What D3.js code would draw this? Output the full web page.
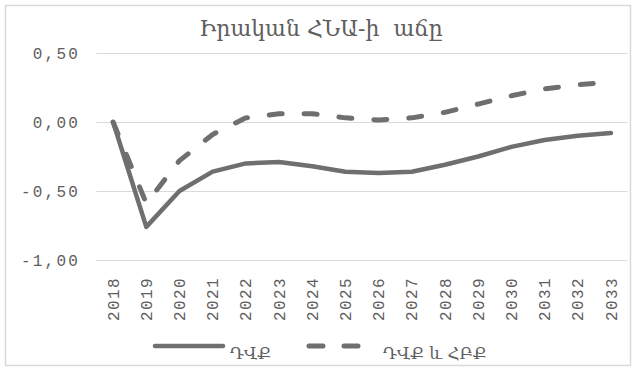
<!DOCTYPE html>
<html>
<head>
<meta charset="utf-8">
<script src="https://cdn.jsdelivr.net/npm/d3@7"></script>
<style>
  html, body { margin: 0; padding: 0; background: #fff; }
  svg { display: block; }
</style>
</head>
<body>
<svg id="chart" width="636" height="370"></svg>
<script>
// Real GDP growth, deviation (percentage points)
const years = ["2018","2019","2020","2021","2022","2023","2024","2025",
               "2026","2027","2028","2029","2030","2031","2032","2033"];
const seriesNames = ["ԴՎՔ", "ԴՎՔ և ՀԲՔ"];
const dvq      = [0.00,-0.76,-0.50,-0.36,-0.30,-0.29,-0.32,-0.36,-0.37,-0.36,-0.31,-0.25,-0.18,-0.13,-0.10,-0.08];
const dvqHbq   = [0.00,-0.59,-0.28,-0.09, 0.03, 0.06, 0.06, 0.03, 0.015,0.03, 0.07, 0.13, 0.19, 0.24, 0.27, 0.29];
const yTicks   = [0.5, 0, -0.5, -1];
const titleText = "Իրական ՀՆԱ-ի  աճը";

const svg = d3.select("#chart");
const grey = "#6f6f6f", textGrey = "#5e5e5e", gridGrey = "#d9d9d9";

// outer frame
svg.append("rect").attr("x", 5.5).attr("y", 5.5).attr("width", 625).attr("height", 360)
  .attr("fill", "#fff").attr("stroke", gridGrey).attr("stroke-width", 1.5);

const x = d3.scaleBand().domain(years).range([96.5, 627.5]);
const y = d3.scaleLinear().domain([-1, 0.5]).range([260, 53]);
const cx = d => x(d) + x.bandwidth() / 2;

// title
svg.append("text").attr("x", 321).attr("y", 36)
  .attr("text-anchor", "middle")
  .style("white-space", "pre")
  .attr("font-family", "DejaVu Serif, serif").attr("font-size", 22)
  .attr("fill", textGrey).text(titleText);

// gridlines
svg.append("g").selectAll("line").data(yTicks).join("line")
  .attr("x1", 96.5).attr("x2", 627.5)
  .attr("y1", d => Math.round(y(d)) + 0.5).attr("y2", d => Math.round(y(d)) + 0.5)
  .attr("stroke", gridGrey).attr("stroke-width", 1);

// y axis labels
const fmt = d => d3.format(".2f")(d).replace(".", ",").replace("−", "-");
const yAxis = d3.axisLeft(y).tickValues(yTicks).tickFormat(fmt).tickSize(0).tickPadding(0);
const gy = svg.append("g").attr("transform", "translate(80,0)").call(yAxis);
gy.select(".domain").remove();
gy.selectAll("text")
  .attr("font-family", "Liberation Mono, monospace").attr("font-size", 16)
  .attr("letter-spacing", 2.2).attr("fill", textGrey).attr("dy", "0.35em");

// x axis labels (rotated)
const xAxis = d3.axisBottom(x).tickSize(0).tickPadding(0);
const gx = svg.append("g").call(xAxis);
gx.select(".domain").remove();
gx.selectAll(".tick").attr("transform", d => `translate(${cx(d)},0)`);
gx.selectAll("text")
  .attr("font-family", "Liberation Mono, monospace").attr("font-size", 16)
  .attr("letter-spacing", 1.4).attr("fill", textGrey)
  .attr("text-anchor", "end")
  .attr("transform", "rotate(-90)")
  .attr("x", -277).attr("y", 0).attr("dy", "0.35em");

// lines
const line = d3.line().x((d, i) => cx(years[i])).y(d => y(d));
svg.append("path").datum(dvq).attr("d", line)
  .attr("fill", "none").attr("stroke", grey).attr("stroke-width", 4.5)
  .attr("stroke-linejoin", "round").attr("stroke-linecap", "round");
svg.append("path").datum(dvqHbq).attr("d", line)
  .attr("fill", "none").attr("stroke", grey).attr("stroke-width", 5)
  .attr("stroke-dasharray", "13,22").attr("stroke-linecap", "round")
  .attr("stroke-linejoin", "round");

// legend
const lg = svg.append("g");
lg.append("line").attr("x1", 155).attr("x2", 223).attr("y1", 346).attr("y2", 346)
  .attr("stroke", grey).attr("stroke-width", 4.5).attr("stroke-linecap", "round");
lg.append("text").attr("x", 230).attr("y", 359).text(seriesNames[0]);
lg.append("line").attr("x1", 309).attr("x2", 362).attr("y1", 346).attr("y2", 346)
  .attr("stroke", grey).attr("stroke-width", 5).attr("stroke-linecap", "round")
  .attr("stroke-dasharray", "14,21");
lg.append("text").attr("x", 383).attr("y", 359).style("white-space", "pre").text(seriesNames[1]);
lg.selectAll("text").attr("font-family", "DejaVu Serif, serif").attr("font-size", 16.5)
  .attr("fill", textGrey);
</script>
</body>
</html>
